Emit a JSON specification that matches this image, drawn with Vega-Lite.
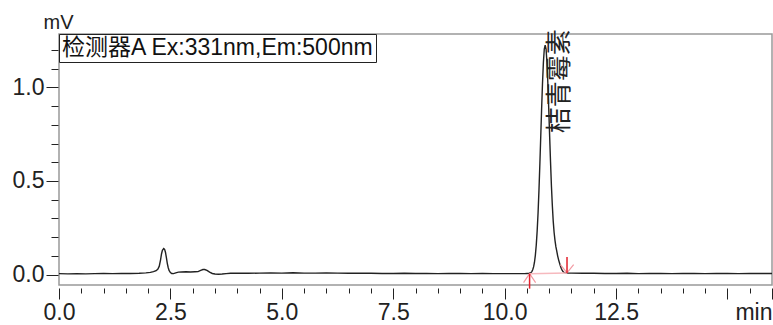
{
  "$schema": "https://vega.github.io/schema/vega-lite/v6.json",
  "width": 713,
  "height": 251,
  "autosize": "none",
  "padding": {"left": 59, "top": 34, "right": 1, "bottom": 40},
  "background": "white",
  "config": {
    "view": {"stroke": "#999999", "strokeWidth": 1.5},
    "font": "Liberation Sans",
    "axis": {"labelFont": "Liberation Sans", "titleFont": "Liberation Sans"}
  },
  "datasets": {
    "signal": [
      {"t": 0.0, "v": 0.005}, {"t": 0.2, "v": 0.004}, {"t": 0.4, "v": 0.005}, {"t": 0.6, "v": 0.004},
      {"t": 0.8, "v": 0.005}, {"t": 1.0, "v": 0.006}, {"t": 1.2, "v": 0.005}, {"t": 1.4, "v": 0.006},
      {"t": 1.6, "v": 0.006}, {"t": 1.8, "v": 0.007}, {"t": 1.95, "v": 0.009}, {"t": 2.05, "v": 0.012},
      {"t": 2.12, "v": 0.016}, {"t": 2.18, "v": 0.021}, {"t": 2.22, "v": 0.03}, {"t": 2.25, "v": 0.045},
      {"t": 2.28, "v": 0.08}, {"t": 2.3, "v": 0.11}, {"t": 2.32, "v": 0.13}, {"t": 2.35, "v": 0.139},
      {"t": 2.37, "v": 0.135}, {"t": 2.39, "v": 0.118}, {"t": 2.41, "v": 0.09}, {"t": 2.43, "v": 0.06},
      {"t": 2.45, "v": 0.038}, {"t": 2.47, "v": 0.022}, {"t": 2.5, "v": 0.011}, {"t": 2.53, "v": 0.006},
      {"t": 2.57, "v": 0.005}, {"t": 2.62, "v": 0.009}, {"t": 2.68, "v": 0.013}, {"t": 2.75, "v": 0.014},
      {"t": 2.85, "v": 0.015}, {"t": 2.95, "v": 0.014}, {"t": 3.05, "v": 0.015}, {"t": 3.12, "v": 0.016},
      {"t": 3.18, "v": 0.022}, {"t": 3.23, "v": 0.027}, {"t": 3.27, "v": 0.027}, {"t": 3.32, "v": 0.022},
      {"t": 3.38, "v": 0.013}, {"t": 3.44, "v": 0.006}, {"t": 3.5, "v": 0.003}, {"t": 3.58, "v": 0.002},
      {"t": 3.66, "v": 0.003}, {"t": 3.75, "v": 0.005}, {"t": 3.85, "v": 0.007}, {"t": 4.0, "v": 0.008},
      {"t": 4.25, "v": 0.007}, {"t": 4.5, "v": 0.008}, {"t": 4.75, "v": 0.009}, {"t": 5.0, "v": 0.008},
      {"t": 5.25, "v": 0.01}, {"t": 5.5, "v": 0.008}, {"t": 5.75, "v": 0.008}, {"t": 6.0, "v": 0.009},
      {"t": 6.25, "v": 0.008}, {"t": 6.5, "v": 0.007}, {"t": 6.75, "v": 0.008}, {"t": 7.0, "v": 0.007},
      {"t": 7.25, "v": 0.006}, {"t": 7.5, "v": 0.006}, {"t": 7.75, "v": 0.007}, {"t": 8.0, "v": 0.006},
      {"t": 8.25, "v": 0.006}, {"t": 8.5, "v": 0.005}, {"t": 8.75, "v": 0.006}, {"t": 9.0, "v": 0.006},
      {"t": 9.25, "v": 0.005}, {"t": 9.5, "v": 0.006}, {"t": 9.75, "v": 0.005}, {"t": 10.0, "v": 0.005},
      {"t": 10.25, "v": 0.005}, {"t": 10.45, "v": 0.005}, {"t": 10.5, "v": 0.006}, {"t": 10.55, "v": 0.007},
      {"t": 10.59, "v": 0.01}, {"t": 10.61, "v": 0.016}, {"t": 10.63, "v": 0.026}, {"t": 10.65, "v": 0.041},
      {"t": 10.67, "v": 0.066}, {"t": 10.69, "v": 0.104}, {"t": 10.71, "v": 0.158}, {"t": 10.73, "v": 0.232},
      {"t": 10.75, "v": 0.328}, {"t": 10.77, "v": 0.447}, {"t": 10.79, "v": 0.585}, {"t": 10.81, "v": 0.734},
      {"t": 10.83, "v": 0.884}, {"t": 10.85, "v": 1.022}, {"t": 10.87, "v": 1.133}, {"t": 10.89, "v": 1.205},
      {"t": 10.91, "v": 1.226}, {"t": 10.93, "v": 1.205}, {"t": 10.95, "v": 1.133}, {"t": 10.97, "v": 1.022},
      {"t": 10.99, "v": 0.884}, {"t": 11.01, "v": 0.741}, {"t": 11.03, "v": 0.602}, {"t": 11.05, "v": 0.474},
      {"t": 11.07, "v": 0.372}, {"t": 11.09, "v": 0.287}, {"t": 11.11, "v": 0.226}, {"t": 11.13, "v": 0.183},
      {"t": 11.15, "v": 0.149}, {"t": 11.17, "v": 0.125}, {"t": 11.19, "v": 0.1}, {"t": 11.21, "v": 0.08},
      {"t": 11.23, "v": 0.063}, {"t": 11.25, "v": 0.047}, {"t": 11.27, "v": 0.034}, {"t": 11.29, "v": 0.024},
      {"t": 11.31, "v": 0.016}, {"t": 11.33, "v": 0.012}, {"t": 11.37, "v": 0.009}, {"t": 11.41, "v": 0.008},
      {"t": 11.5, "v": 0.008}, {"t": 11.75, "v": 0.007}, {"t": 12.0, "v": 0.007}, {"t": 12.25, "v": 0.006},
      {"t": 12.5, "v": 0.006}, {"t": 12.75, "v": 0.007}, {"t": 13.0, "v": 0.005}, {"t": 13.25, "v": 0.006},
      {"t": 13.5, "v": 0.006}, {"t": 13.75, "v": 0.005}, {"t": 14.0, "v": 0.006}, {"t": 14.25, "v": 0.006},
      {"t": 14.5, "v": 0.005}, {"t": 14.75, "v": 0.006}, {"t": 15.0, "v": 0.006}, {"t": 15.25, "v": 0.005},
      {"t": 15.5, "v": 0.006}, {"t": 15.75, "v": 0.006}, {"t": 16.0, "v": 0.006}
    ],
    "peaks": [
      {"t": 10.56, "v": 0.005, "kind": "start"},
      {"t": 11.4, "v": 0.009, "kind": "end"}
    ],
    "names": [
      {"t": 10.91, "name": "桔青霉素"}
    ]
  },
  "resolve": {"axis": {"x": "independent", "y": "independent"}},
  "layer": [
    {
      "data": {"name": "signal"},
      "mark": {"type": "line", "color": "#1e1e1e", "strokeWidth": 1.4},
      "encoding": {
        "x": {
          "field": "t", "type": "quantitative",
          "scale": {"domain": [0, 16], "nice": false, "zero": false},
          "axis": {
            "orient": "bottom",
            "title": null,
            "values": [0, 2.5, 5, 7.5, 10, 12.5, 15, 16],
            "labelExpr": "datum.value == 16 ? 'min' : (datum.value == 15 ? '' : format(datum.value, '.1f'))",
            "tickSize": 11,
            "labelAlign": {"condition": {"test": "datum.value == 16", "value": "right"}, "value": "center"},
            "offset": 3,
            "domain": false,
            "grid": false,
            "tickColor": "#222222",
            "labelColor": "#222222",
            "labelFontSize": 23,
            "labelPadding": 2,
            "labelFlush": false,
            "labelOverlap": false,
            "labelBound": false
          }
        },
        "y": {
          "field": "v", "type": "quantitative",
          "scale": {"domain": [-0.0556, 1.285], "nice": false, "zero": false},
          "axis": {
            "orient": "left",
            "title": "mV",
            "titleAngle": 0,
            "titleAlign": "left",
            "titleBaseline": "alphabetic",
            "titleX": -15,
            "titleY": -6,
            "titleFontSize": 20,
            "titleFontWeight": "normal",
            "titleColor": "#222222",
            "values": [0, 0.5, 1.0],
            "format": ".1f",
            "tickSize": 12,
            "offset": 1,
            "domain": false,
            "grid": false,
            "tickColor": "#222222",
            "labelColor": "#222222",
            "labelFontSize": 23,
            "labelPadding": 2,
            "labelOverlap": false,
            "labelFlush": false
          }
        },
        "color": {
          "datum": "检测器A Ex:331nm,Em:500nm",
          "type": "nominal",
          "scale": {"range": ["#222222"]},
          "legend": {
            "title": null,
            "orient": "top-left",
            "offset": 0,
            "symbolType": "circle",
            "symbolSize": 0,
            "symbolOpacity": 0,
            "symbolStrokeWidth": 0,
            "labelOffset": -22,
            "labelFont": "Liberation Sans, Noto Sans CJK SC",
            "labelFontSize": 23,
            "labelColor": "#111111",
            "labelLimit": 500,
            "strokeColor": "#222222",
            "fillColor": "white",
            "padding": 2
          }
        }
      }
    },
    {
      "data": {"name": "peaks"},
      "mark": {"type": "line", "color": "#f6b9be", "strokeWidth": 1.5},
      "encoding": {
        "x": {
          "field": "t", "type": "quantitative",
          "axis": {
            "orient": "bottom",
            "title": null,
            "values": [0.5, 1, 1.5, 2, 3, 3.5, 4, 4.5, 5.5, 6, 6.5, 7, 8, 8.5, 9, 9.5, 10.5, 11, 11.5, 12, 13, 13.5, 14, 14.5, 15.5],
            "labels": false,
            "tickSize": 5,
            "offset": 3,
            "domain": false,
            "grid": false,
            "tickColor": "#222222"
          }
        },
        "y": {
          "field": "v", "type": "quantitative",
          "axis": {
            "orient": "left",
            "title": null,
            "values": [0.1, 0.2, 0.3, 0.4, 0.6, 0.7, 0.8, 0.9, 1.1, 1.2],
            "labels": false,
            "tickSize": 7,
            "offset": 1,
            "domain": false,
            "grid": false,
            "tickColor": "#222222"
          }
        }
      }
    },
    {
      "data": {"name": "peaks"},
      "transform": [{"filter": "datum.kind == 'start'"}],
      "mark": {"type": "point", "shape": "M-0.67,1L0,0L0.67,1", "size": 324, "filled": false, "stroke": "#f29aa2", "strokeWidth": 1.2, "opacity": 1},
      "encoding": {
        "x": {"field": "t", "type": "quantitative", "axis": null},
        "y": {"field": "v", "type": "quantitative", "axis": null}
      }
    },
    {
      "data": {"name": "peaks"},
      "transform": [{"filter": "datum.kind == 'start'"}],
      "mark": {"type": "point", "shape": "M0,0L0,1", "size": 900, "filled": false, "stroke": "#e3202c", "strokeWidth": 1.5, "opacity": 1},
      "encoding": {
        "x": {"field": "t", "type": "quantitative", "axis": null},
        "y": {"field": "v", "type": "quantitative", "axis": null}
      }
    },
    {
      "data": {"name": "peaks"},
      "transform": [{"filter": "datum.kind == 'end'"}],
      "mark": {"type": "point", "shape": "M-0.79,-1L0,0L0.79,-1", "size": 282, "filled": false, "stroke": "#f29aa2", "strokeWidth": 1.2, "opacity": 1},
      "encoding": {
        "x": {"field": "t", "type": "quantitative", "axis": null},
        "y": {"field": "v", "type": "quantitative", "axis": null}
      }
    },
    {
      "data": {"name": "peaks"},
      "transform": [{"filter": "datum.kind == 'end'"}],
      "mark": {"type": "point", "shape": "M0,0L0,-1", "size": 1024, "filled": false, "stroke": "#e3202c", "strokeWidth": 1.5, "opacity": 1},
      "encoding": {
        "x": {"field": "t", "type": "quantitative", "axis": null},
        "y": {"field": "v", "type": "quantitative", "axis": null}
      }
    },
    {
      "data": {"name": "names"},
      "mark": {"type": "text", "angle": 270, "align": "right", "baseline": "middle", "dy": 15, "font": "Noto Sans CJK SC", "fontSize": 26, "color": "#222222"},
      "encoding": {
        "x": {"field": "t", "type": "quantitative", "axis": null},
        "y": {"datum": 1.31, "axis": null},
        "text": {"field": "name"}
      }
    }
  ]
}
